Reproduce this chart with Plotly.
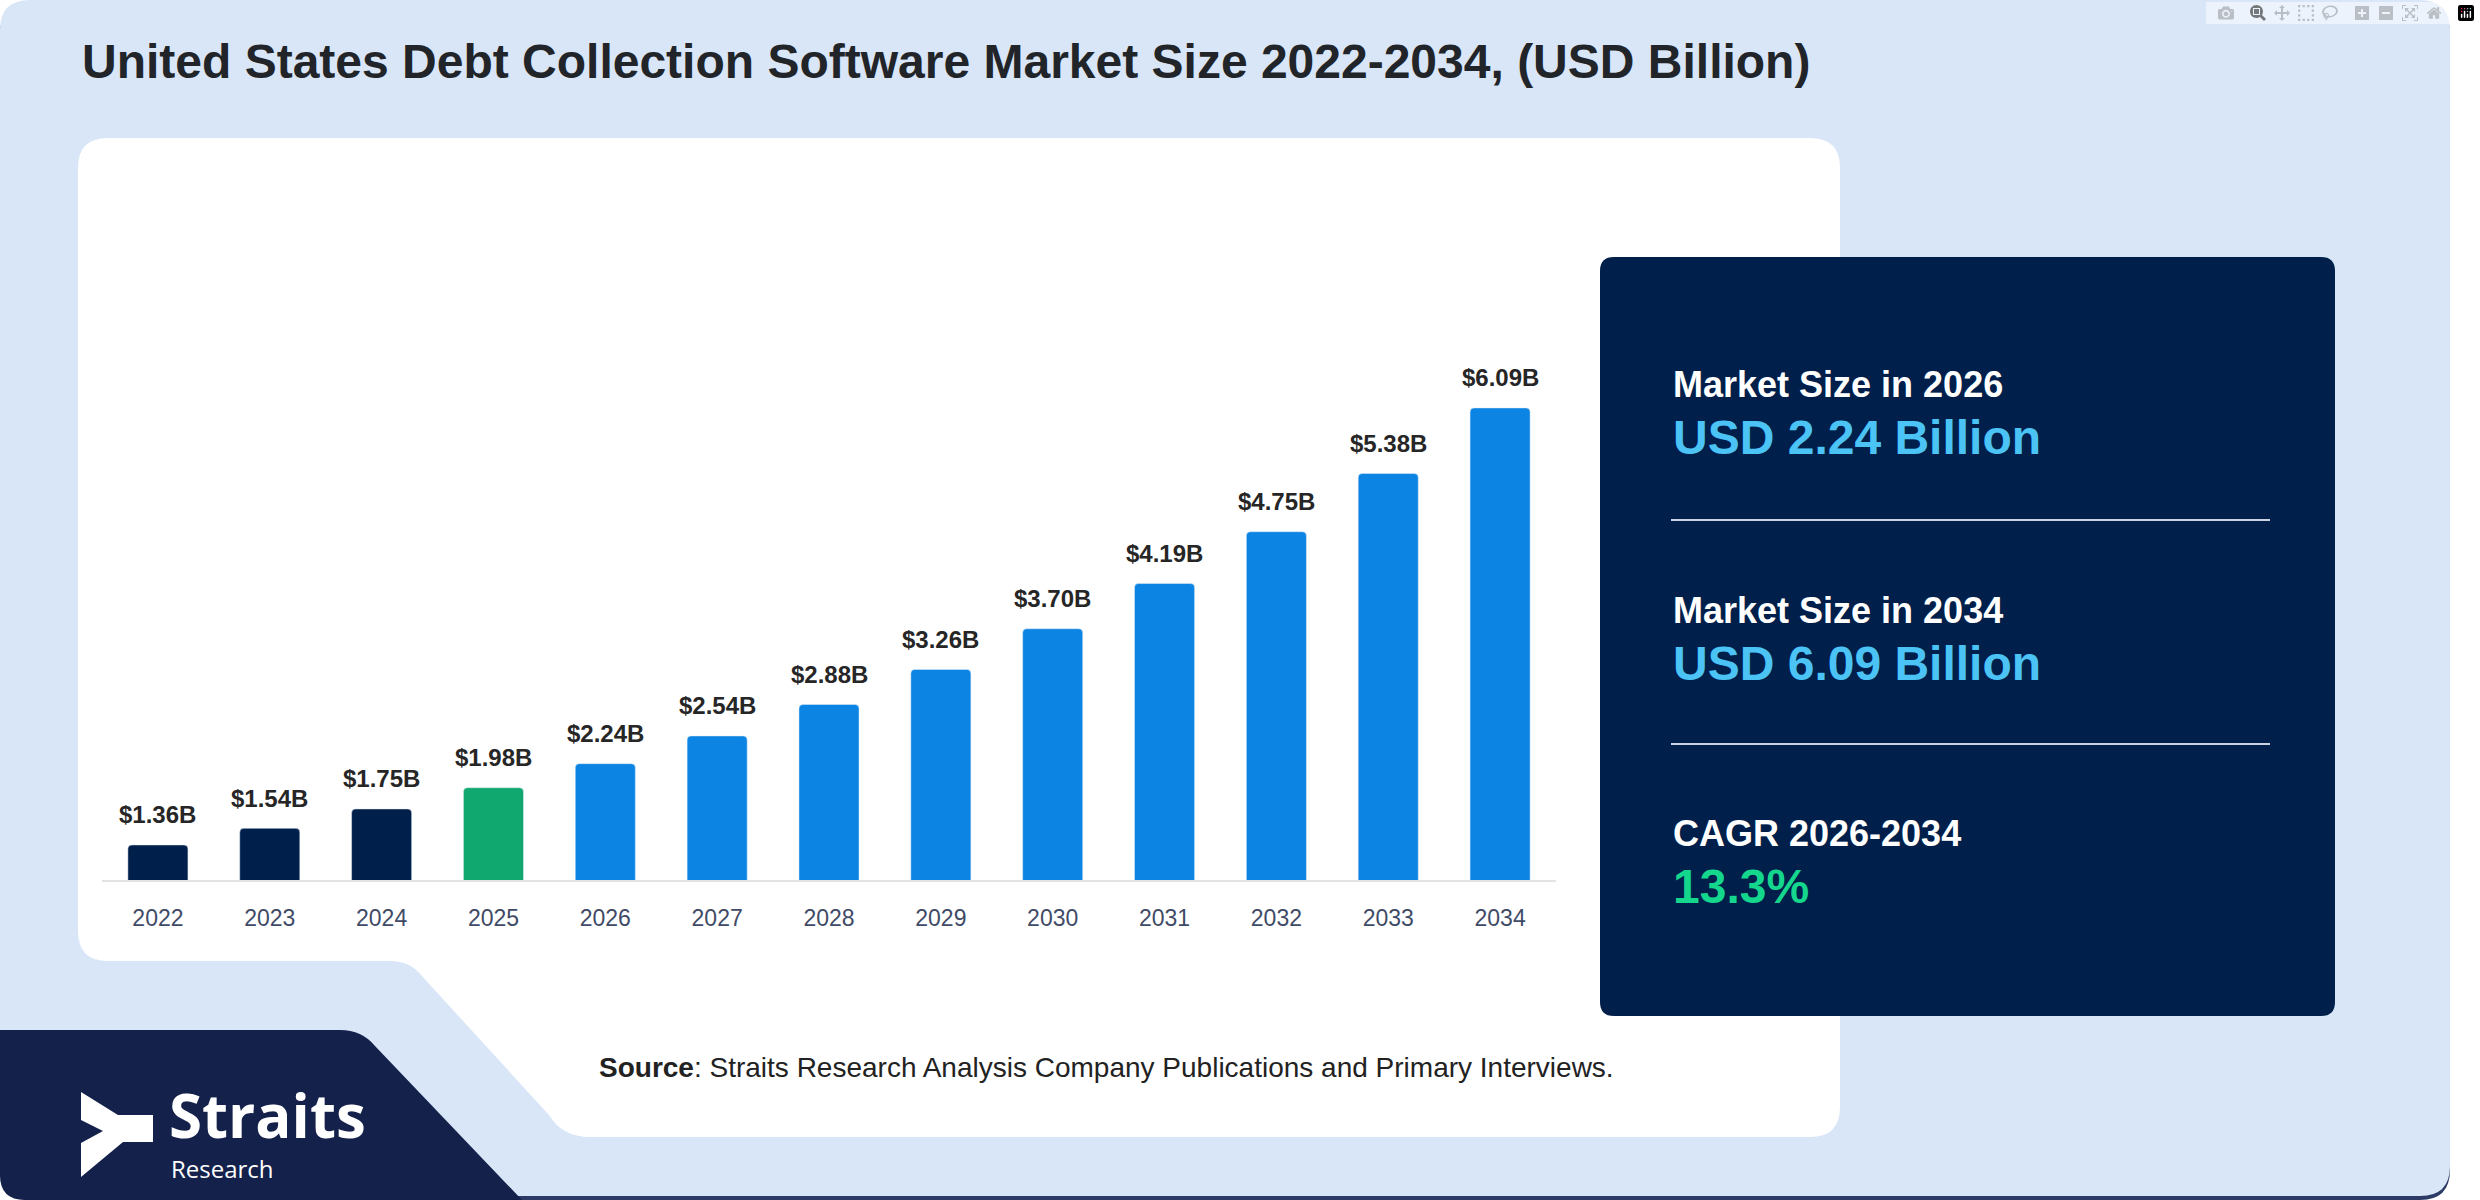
import plotly.graph_objects as go

W, H = 2480, 1200

years = [str(y) for y in range(2022, 2035)]
values = [1.36, 1.54, 1.75, 1.98, 2.24, 2.54, 2.88, 3.26, 3.70, 4.19, 4.75, 5.38, 6.09]
bar_colors = ["#011f4b"] * 3 + ["#11a86f"] + ["#0b84e3"] * 9

title = "United States Debt Collection Software Market Size 2022-2034, (USD Billion)"
stat_labels = ["Market Size in 2026", "Market Size in 2034", "CAGR 2026-2034"]
stat_values = ["USD 2.24 Billion", "USD 6.09 Billion", "13.3%"]
stat_colors = ["#4cc3f5", "#4cc3f5", "#15d68d"]
source = "<b>Source</b>: Straits Research Analysis Company Publications and Primary Interviews."

FONT = "Liberation Sans, Arial, sans-serif"
LOGO_FONT = "Open Sans, sans-serif"


def P(x, y):
    return f"{x / W:.5f},{1 - y / H:.5f}"


def rrect(x0, y0, x1, y1, r):
    return (f"M{P(x0 + r, y0)} L{P(x1 - r, y0)} Q{P(x1, y0)} {P(x1, y0 + r)} "
            f"L{P(x1, y1 - r)} Q{P(x1, y1)} {P(x1 - r, y1)} "
            f"L{P(x0 + r, y1)} Q{P(x0, y1)} {P(x0, y1 - r)} "
            f"L{P(x0, y0 + r)} Q{P(x0, y0)} {P(x0 + r, y0)} Z")


def shape(path, color):
    return dict(type="path", path=path, xref="paper", yref="paper",
                fillcolor=color, line=dict(width=0), layer="below")


def note(x, y, text, size, color, bold=False, family=FONT, yanchor="middle"):
    if bold:
        text = f"<b>{text}</b>"
    return dict(x=x / W, y=1 - y / H, xref="paper", yref="paper", text=text,
                showarrow=False, xanchor="left", yanchor=yanchor,
                font=dict(size=size, color=color, family=family))


shapes = []
# page shadow + page
shapes.append(shape(rrect(0, 4, 2450, 1200, 30), "#2b3b66"))
shapes.append(shape(rrect(0, 0, 2450, 1196, 30), "#d9e6f8"))

# white card with bottom-left notch
r = 30
card = (f"M{P(78 + r, 138)} L{P(1840 - r, 138)} Q{P(1840, 138)} {P(1840, 138 + r)} "
        f"L{P(1840, 1137 - r)} Q{P(1840, 1137)} {P(1840 - r, 1137)} "
        f"L{P(590, 1137)} Q{P(562, 1137)} {P(549, 1115)} "
        f"L{P(421, 975)} Q{P(410, 961)} {P(390, 961)} "
        f"L{P(78 + r, 961)} Q{P(78, 961)} {P(78, 961 - r)} "
        f"L{P(78, 138 + r)} Q{P(78, 138)} {P(78 + r, 138)} Z")
shapes.append(shape(card, "#ffffff"))

# navy logo block
navy = (f"M{P(0, 1030)} L{P(340, 1030)} Q{P(362, 1030)} {P(375, 1046)} "
        f"L{P(522, 1200)} L{P(25, 1200)} Q{P(0, 1200)} {P(0, 1175)} Z")
shapes.append(shape(navy, "#14214b"))

# logo mark
mark = (f"M{P(81, 1092)} L{P(118, 1115)} L{P(153, 1115)} L{P(153, 1142)} "
        f"L{P(123, 1142)} L{P(81, 1177)} L{P(81, 1143)} L{P(103, 1131)} L{P(81, 1120)} Z")
shapes.append(shape(mark, "#ffffff"))

# stats panel
shapes.append(shape(rrect(1600, 257, 2335, 1016, 14), "#001f4b"))
for ly in (520, 744):
    shapes.append(dict(type="line", xref="paper", yref="paper",
                       x0=1671 / W, x1=2270 / W, y0=1 - ly / H, y1=1 - ly / H,
                       line=dict(color="#c9d3e0", width=2), layer="above"))

annotations = [note(80, 62, title, 48, "#212529", bold=True),
               note(597, 1067, source, 28, "#222222"),
               note(167, 1158, "<b>Straits</b>", 60, "#ffffff", family=LOGO_FONT,
                    yanchor="bottom"),
               note(169, 1150, "Research", 24, "#ffffff", family=LOGO_FONT,
                    yanchor="top")]

label_y = [384, 610, 833]
for lab, val, col, ly in zip(stat_labels, stat_values, stat_colors, label_y):
    annotations.append(note(1671, ly, lab, 36, "#ffffff", bold=True))
    annotations.append(note(1671, ly + 53, val, 48, col, bold=True))

# value labels above bars (category serial number as x)
for i, v in enumerate(values):
    annotations.append(dict(x=i, y=v, xref="x", yref="y", text=f"<b>${v:.2f}B</b>",
                            showarrow=False, yshift=30, yanchor="middle",
                            font=dict(size=24, color="#262626", family=FONT)))

fig = go.Figure()
fig.add_trace(go.Bar(x=years, y=values, marker=dict(color=bar_colors, cornerradius=4),
                     hoverinfo="x+y"))

base_px, top_px = 880, 300
px_per_unit = 92.4
y_min = 0.981
y_max = y_min + (base_px - top_px) / px_per_unit

fig.update_layout(
    width=W, height=H,
    margin=dict(l=0, r=0, t=0, b=0, autoexpand=False),
    paper_bgcolor="#ffffff",
    plot_bgcolor="rgba(0,0,0,0)",
    showlegend=False,
    bargap=0.463,
    font=dict(family=FONT),
    shapes=shapes,
    annotations=annotations,
    xaxis=dict(domain=[102 / W, 1556 / W], type="category", range=[-0.5, 12.5],
               automargin=False, showgrid=False,
               showline=True, linecolor="#e3e3e3", linewidth=2,
               ticks="outside", ticklen=16, tickcolor="rgba(0,0,0,0)",
               tickfont=dict(size=23, color="#3f4b66", family=FONT)),
    yaxis=dict(domain=[1 - base_px / H, 1 - top_px / H], range=[y_min, y_max],
               automargin=False, visible=False, showgrid=False, zeroline=False),
)

fig.write_html("out.html",
               post_script="document.body.style.margin='0';document.body.style.overflow='hidden';")
